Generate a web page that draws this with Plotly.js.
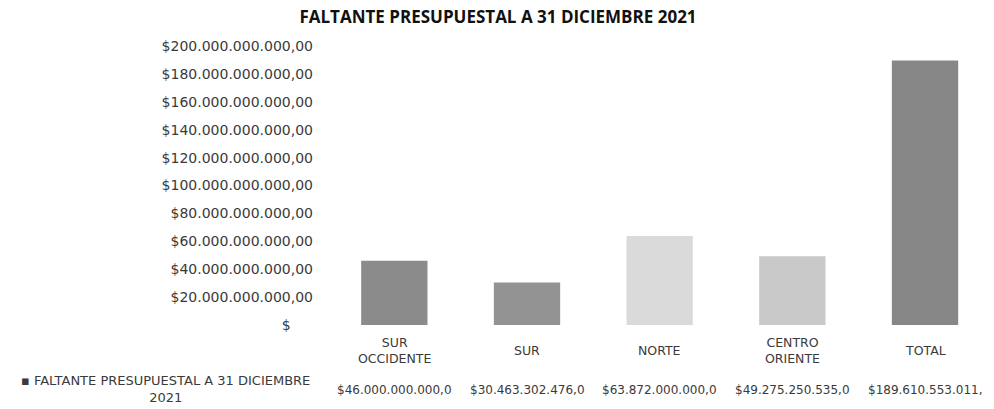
<!DOCTYPE html>
<html>
<head>
<meta charset="utf-8">
<script src="https://cdn.plot.ly/plotly-3.0.1.min.js"></script>
<style>html,body{margin:0;padding:0;background:#fff;}#chart{width:994px;height:409px;}</style>
</head>
<body>
<div id="chart"></div>
<script>
const categories = ["SUR<br>OCCIDENTE", "SUR", "NORTE", "CENTRO<br>ORIENTE", "TOTAL"];
const values = [46000000000, 30463302476, 63872000000, 49275250535, 189610553011];
const barColors = ["#8b8b8b", "#939393", "#dadada", "#c9c9c9", "#878787"];
const tickVals = [0, 20e9, 40e9, 60e9, 80e9, 100e9, 120e9, 140e9, 160e9, 180e9, 200e9];
const tickLabels = ["$\u00a0\u00a0\u00a0\u00a0\u00a0", "$20.000.000.000,00", "$40.000.000.000,00", "$60.000.000.000,00",
  "$80.000.000.000,00", "$100.000.000.000,00", "$120.000.000.000,00", "$140.000.000.000,00",
  "$160.000.000.000,00", "$180.000.000.000,00", "$200.000.000.000,00"];
const seriesName = "FALTANTE PRESUPUESTAL A 31 DICIEMBRE 2021";
const chartTitle = "FALTANTE PRESUPUESTAL A 31 DICIEMBRE 2021";

function fmt(v) {
  const s = Math.round(v).toString().replace(/\B(?=(\d{3})+(?!\d))/g, ".");
  return "$" + s + ",00";
}

const txtColor = "#3a3a3a";
const annotations = [];
categories.forEach((c, i) => {
  annotations.push({
    x: c, xref: "x", y: 0, yref: "paper", yanchor: "middle", xanchor: "center",
    yshift: -25, text: c, showarrow: false, align: "center",
    font: {family: "DejaVu Sans", size: 12.5, color: txtColor}
  });
  annotations.push({
    x: c, xref: "x", y: 0, yref: "paper", yanchor: "middle", xanchor: "center",
    yshift: -65, text: fmt(values[i]).slice(0, 17), showarrow: false,
    font: {family: "DejaVu Sans", size: 12, color: txtColor}
  });
});
annotations.push({
  x: 0, xref: "paper", xshift: -163, xanchor: "center",
  y: 0, yref: "paper", yshift: -64, yanchor: "middle",
  text: "\u25aa FALTANTE PRESUPUESTAL A 31 DICIEMBRE<br>2021", align: "center", showarrow: false,
  font: {family: "DejaVu Sans", size: 13, color: txtColor}
});

const data = [{
  type: "bar",
  x: categories,
  y: values,
  name: seriesName,
  marker: {color: barColors},
  width: 0.5,
  hoverinfo: "x+y",
  showlegend: false
}];

const layout = {
  width: 994, height: 409,
  margin: {l: 328, r: 0, t: 46, b: 84},
  paper_bgcolor: "#ffffff", plot_bgcolor: "#ffffff",
  title: {
    text: "<b>" + chartTitle + "</b>",
    x: 0.501, xref: "container", xanchor: "center",
    y: 1 - 17 / 409, yref: "container", yanchor: "middle",
    font: {family: "Open Sans", size: 17, color: "#111"}
  },
  xaxis: {
    type: "category", range: [-0.5, 4.52],
    showticklabels: false, showgrid: false, zeroline: false, showline: false, ticks: ""
  },
  yaxis: {
    range: [0, 200e9], tickmode: "array", tickvals: tickVals, ticktext: tickLabels,
    showgrid: false, zeroline: false, showline: false, ticks: "",
    ticklabelstandoff: 14,
    tickfont: {family: "DejaVu Sans", size: 14, color: txtColor}
  },
  annotations: annotations,
  showlegend: false
};

Plotly.newPlot("chart", data, layout, {displayModeBar: false, staticPlot: true});
</script>
</body>
</html>
